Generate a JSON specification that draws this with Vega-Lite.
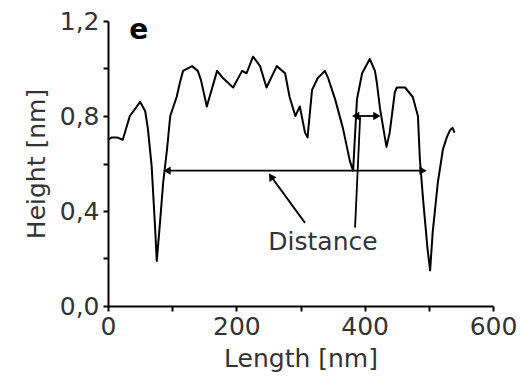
{
  "$schema": "https://vega.github.io/schema/vega-lite/v6.json",
  "width": 385,
  "height": 285,
  "autosize": "none",
  "padding": {"left": 108, "top": 21, "right": 27, "bottom": 71},
  "background": "white",
  "config": {
    "view": {"stroke": null},
    "axis": {
      "grid": false,
      "domainColor": "black",
      "domainWidth": 2,
      "tickColor": "black",
      "tickWidth": 2,
      "labelFlush": false,
      "labelFont": "DejaVu Sans",
      "labelFontSize": 25,
      "labelColor": "#333",
      "titleFont": "DejaVu Sans",
      "titleFontSize": 25,
      "titleFontWeight": "normal",
      "titleColor": "#333"
    }
  },
  "datasets": {
    "profile": [
      {"x": 0, "h": 0.70}, {"x": 6, "h": 0.71}, {"x": 14, "h": 0.71}, {"x": 23, "h": 0.70},
      {"x": 34, "h": 0.80}, {"x": 45, "h": 0.84}, {"x": 50, "h": 0.86}, {"x": 58, "h": 0.82},
      {"x": 62, "h": 0.75}, {"x": 68, "h": 0.59}, {"x": 73, "h": 0.35}, {"x": 76, "h": 0.19},
      {"x": 81, "h": 0.35}, {"x": 86, "h": 0.52}, {"x": 92, "h": 0.66}, {"x": 97, "h": 0.80},
      {"x": 107, "h": 0.88}, {"x": 112, "h": 0.94}, {"x": 117, "h": 0.99}, {"x": 131, "h": 1.01},
      {"x": 140, "h": 0.99}, {"x": 145, "h": 0.95}, {"x": 154, "h": 0.84}, {"x": 170, "h": 0.99},
      {"x": 179, "h": 0.96}, {"x": 195, "h": 0.92}, {"x": 209, "h": 0.99}, {"x": 216, "h": 0.98},
      {"x": 226, "h": 1.05}, {"x": 237, "h": 1.01}, {"x": 247, "h": 0.92}, {"x": 263, "h": 1.01},
      {"x": 276, "h": 0.98}, {"x": 283, "h": 0.88}, {"x": 292, "h": 0.80}, {"x": 299, "h": 0.84},
      {"x": 307, "h": 0.73}, {"x": 311, "h": 0.71}, {"x": 318, "h": 0.91}, {"x": 327, "h": 0.96},
      {"x": 338, "h": 0.99}, {"x": 343, "h": 0.96}, {"x": 354, "h": 0.87}, {"x": 366, "h": 0.75},
      {"x": 377, "h": 0.61}, {"x": 382, "h": 0.57}, {"x": 388, "h": 0.87}, {"x": 396, "h": 0.98},
      {"x": 408, "h": 1.04}, {"x": 416, "h": 0.99}, {"x": 419, "h": 0.94}, {"x": 424, "h": 0.83},
      {"x": 434, "h": 0.67}, {"x": 439, "h": 0.73}, {"x": 447, "h": 0.90}, {"x": 450, "h": 0.92},
      {"x": 463, "h": 0.92}, {"x": 475, "h": 0.88}, {"x": 483, "h": 0.80}, {"x": 486, "h": 0.62},
      {"x": 491, "h": 0.45}, {"x": 498, "h": 0.24}, {"x": 502, "h": 0.15}, {"x": 506, "h": 0.31},
      {"x": 514, "h": 0.52}, {"x": 522, "h": 0.66}, {"x": 528, "h": 0.71}, {"x": 533, "h": 0.74},
      {"x": 537, "h": 0.75}, {"x": 540, "h": 0.73}
    ],
    "rules": [
      {"x": 92, "x2": 491, "y": 0.57, "y2": 0.57},
      {"x": 385, "x2": 420, "y": 0.80, "y2": 0.80},
      {"x": 253, "x2": 307, "y": 0.55, "y2": 0.35},
      {"x": 385, "x2": 393, "y": 0.33, "y2": 0.80}
    ],
    "heads": [
      {"x": 92, "y": 0.57, "shape": "triangle-left", "angle": 0},
      {"x": 491, "y": 0.57, "shape": "triangle-right", "angle": 0},
      {"x": 386, "y": 0.80, "shape": "triangle-left", "angle": 0},
      {"x": 419, "y": 0.80, "shape": "triangle-right", "angle": 0},
      {"x": 254, "y": 0.545, "shape": "triangle-up", "angle": -33}
    ],
    "labels": [
      {"x": 335, "y": 0.27, "text": "Distance"}
    ],
    "panel": [
      {"x": 48, "y": 1.16, "text": "e"}
    ]
  },
  "layer": [
    {
      "data": {"name": "profile"},
      "mark": {"type": "line", "color": "black", "strokeWidth": 2, "strokeJoin": "round"},
      "encoding": {
        "x": {
          "field": "x", "type": "quantitative",
          "scale": {"domain": [0, 600], "nice": false},
          "axis": {
            "title": "Length [nm]",
            "values": [0, 100, 200, 300, 400, 500, 600],
            "labelExpr": "datum.value % 200 === 0 ? datum.label : ''",
            "tickSize": 5,
            "labelPadding": 3,
            "titlePadding": 7
          }
        },
        "y": {
          "field": "h", "type": "quantitative",
          "scale": {"domain": [0, 1.2], "nice": false},
          "axis": {
            "title": "Height [nm]",
            "values": [0, 0.2, 0.4, 0.6, 0.8, 1.0, 1.2],
            "labelExpr": "round(datum.value * 10) % 4 === 0 ? replace(format(datum.value, '.1f'), '.', ',') : ''",
            "tickSize": 5,
            "labelPadding": 4,
            "titlePadding": 10
          }
        }
      }
    },
    {
      "data": {"name": "rules"},
      "mark": {"type": "rule", "color": "black", "strokeWidth": 1.8},
      "encoding": {
        "x": {"field": "x", "type": "quantitative"},
        "x2": {"field": "x2"},
        "y": {"field": "y", "type": "quantitative"},
        "y2": {"field": "y2"}
      }
    },
    {
      "data": {"name": "heads"},
      "mark": {"type": "point", "filled": true, "color": "black", "opacity": 1, "size": 70},
      "encoding": {
        "x": {"field": "x", "type": "quantitative"},
        "y": {"field": "y", "type": "quantitative"},
        "shape": {"field": "shape", "type": "nominal", "scale": null},
        "angle": {"field": "angle", "type": "quantitative", "scale": null}
      }
    },
    {
      "data": {"name": "labels"},
      "mark": {"type": "text", "font": "DejaVu Sans", "fontSize": 25, "color": "#333", "align": "center", "baseline": "middle"},
      "encoding": {
        "x": {"field": "x", "type": "quantitative"},
        "y": {"field": "y", "type": "quantitative"},
        "text": {"field": "text"}
      }
    },
    {
      "data": {"name": "panel"},
      "mark": {"type": "text", "font": "DejaVu Sans", "fontSize": 28, "fontWeight": "bold", "color": "black", "align": "center", "baseline": "middle"},
      "encoding": {
        "x": {"field": "x", "type": "quantitative"},
        "y": {"field": "y", "type": "quantitative"},
        "text": {"field": "text"}
      }
    }
  ]
}
